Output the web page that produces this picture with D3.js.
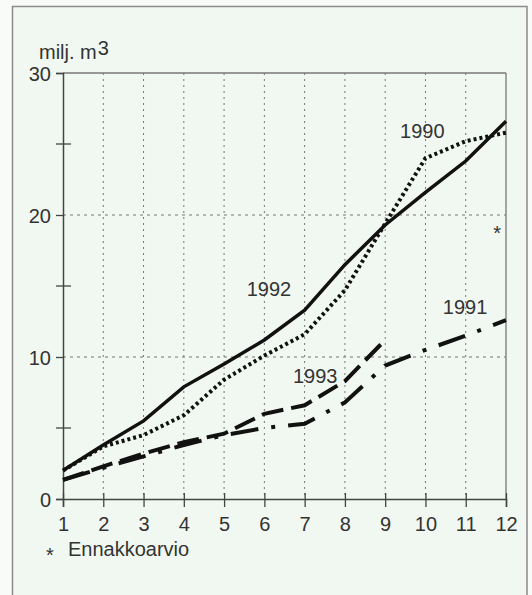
<!DOCTYPE html>
<html><head><meta charset="utf-8">
<script src="https://cdn.jsdelivr.net/npm/d3@7"></script>
<style>
html,body{margin:0;padding:0;background:#f8fbf8;}
svg{display:block;font-family:"Liberation Sans",Arial,Helvetica,sans-serif;}
</style></head>
<body>
<svg id="c" width="532" height="595"></svg>
<script>
const months = [1,2,3,4,5,6,7,8,9,10,11,12];
const yTicksMajor = [0,10,20,30];
const yTicksMinor = [5,15,25];
const v1990 = [2.0,3.7,4.5,5.9,8.4,10.1,11.6,14.7,19.4,24.0,25.2,25.8];
const v1991 = [1.35,2.2,3.0,3.8,4.5,5.0,5.3,6.8,9.4,10.5,11.5,12.6];
const v1992 = [2.0,3.8,5.5,7.9,9.5,11.2,13.3,16.5,19.3,21.6,23.8,26.6];
const v1993 = [1.35,2.3,3.2,4.0,4.6,6.0,6.6,8.3,11.2];
const seriesLabels = [
  {name:"1990", m:9.37, v:25.4},
  {name:"1992", m:5.56, v:14.3},
  {name:"1993", m:6.71, v:8.2},
  {name:"1991", m:10.43, v:13.05}
];
const estimate = {m:11.78, v:19.2};
const unitLabel = "milj. m";
const unitSup = "3";
const footnote = "Ennakkoarvio";

const svg = d3.select("#c");
const x = d3.scaleLinear().domain([1,12]).range([63,506]);
const y = d3.scaleLinear().domain([0,30]).range([499,73]);

// outer panel
svg.append("rect").attr("x",12.5).attr("y",6.5).attr("width",514.5).attr("height",600)
  .attr("fill","#f1f8f1").attr("stroke","#8a8a8a").attr("stroke-width",1.5);

// grid
const g = svg.append("g");
g.selectAll(".vg").data(months.slice(1,11)).join("line")
  .attr("x1",d=>x(d)).attr("x2",d=>x(d)).attr("y1",y(30)).attr("y2",y(0))
  .attr("stroke","#777").attr("stroke-width",1).attr("stroke-dasharray","2,4");
g.selectAll(".hg").data([10,20]).join("line")
  .attr("x1",x(1)).attr("x2",x(12)).attr("y1",d=>y(d)).attr("y2",d=>y(d))
  .attr("stroke","#777").attr("stroke-width",1).attr("stroke-dasharray","3,4");

// frame top & right
g.append("line").attr("x1",x(1)).attr("x2",x(12)).attr("y1",y(30)).attr("y2",y(30))
  .attr("stroke","#777").attr("stroke-width",1.3);
g.append("line").attr("x1",x(12)).attr("x2",x(12)).attr("y1",y(30)).attr("y2",y(0))
  .attr("stroke","#777").attr("stroke-width",1.3);

// y axis
const yAxis = d3.axisLeft(y).tickValues(yTicksMajor).tickSize(7).tickPadding(5).tickFormat(d3.format("d"));
const ya = svg.append("g").attr("transform",`translate(${x(1)},0)`).call(yAxis);
ya.select(".domain").attr("stroke","#444").attr("stroke-width",1.5);
ya.selectAll(".tick line").attr("stroke","#444").attr("stroke-width",1.3);
ya.selectAll(".tick text").attr("font-size",20).attr("fill","#333").attr("font-family","Liberation Sans, Arial, sans-serif").attr("dy","0.36em");
svg.selectAll(".ymin").data(yTicksMinor).join("line")
  .attr("x1",x(1)-7).attr("x2",x(1)+8).attr("y1",d=>y(d)).attr("y2",d=>y(d))
  .attr("stroke","#444").attr("stroke-width",1.3);

// x axis
const xAxis = d3.axisBottom(x).tickValues(months).tickSize(8).tickPadding(10).tickFormat(d3.format("d"));
const xa = svg.append("g").attr("transform",`translate(0,${y(0)})`).call(xAxis);
xa.select(".domain").attr("stroke","#444").attr("stroke-width",1.5);
xa.selectAll(".tick line").attr("stroke","#444").attr("stroke-width",1.3).attr("y1",-6);
xa.selectAll(".tick text").attr("font-size",20).attr("fill","#333").attr("font-family","Liberation Sans, Arial, sans-serif").attr("dy","0.71em");

// lines
const line = d3.line().x((d,i)=>x(months[i])).y(d=>y(d));
const lines = svg.append("g").attr("fill","none").attr("stroke","#111");
lines.append("path").datum(v1992).attr("d",line).attr("stroke-width",3.5);
lines.append("path").datum(v1990).attr("d",line).attr("stroke-width",4).attr("stroke-dasharray","3,3");
lines.append("path").datum(v1993).attr("d",line).attr("stroke-width",4).attr("stroke-dasharray","22,8");
lines.append("path").datum(v1991).attr("d",line).attr("stroke-width",4).attr("stroke-dasharray","28,13,4,13");

// labels
svg.selectAll(".sl").data(seriesLabels).join("text")
  .attr("x",d=>x(d.m)).attr("y",d=>y(d.v)).attr("font-size",20).attr("fill","#333").text(d=>d.name);

svg.append("text").attr("x",x(estimate.m)).attr("y",y(estimate.v)).attr("text-anchor","middle")
  .attr("dy","0.7em").attr("font-size",20).attr("fill","#333").text("*");

// unit
const ut = svg.append("text").attr("x",39).attr("y",59).attr("font-size",20).attr("fill","#333");
ut.append("tspan").text(unitLabel);
ut.append("tspan").attr("dx",1).attr("dy",-4).text(unitSup);

// footnote
svg.append("text").attr("x",46).attr("y",562).attr("font-size",20).attr("fill","#333").text("*");
svg.append("text").attr("x",68).attr("y",556).attr("font-size",20).attr("fill","#333").text(footnote);
</script>
</body></html>
